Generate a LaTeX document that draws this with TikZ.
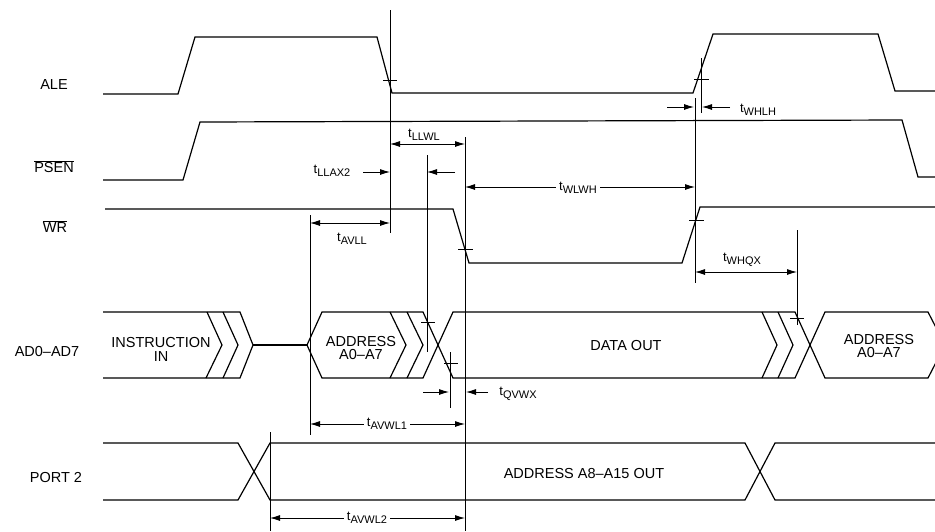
\documentclass[tikz,border=0pt]{standalone}
\usepackage{fontspec}
\setmainfont{Liberation Sans}
\usetikzlibrary{arrows.meta}
\newcommand{\tsub}[1]{{\fontsize{13}{13}\selectfont t}{\fontsize{11}{11}\selectfont\raisebox{-3.5pt}{#1}}}
\begin{document}
\begin{tikzpicture}[x=1pt,y=-1pt,
  wave/.style={line width=1.2pt, line join=miter},
  refl/.style={line width=1pt},
  tick/.style={line width=1pt},
  dim/.style={line width=0.9pt},
  arr/.style={-{Latex[length=10pt,width=6pt]}},
  barr/.style={{Latex[length=10pt,width=6pt]}-{Latex[length=10pt,width=6pt]}},
  lbl/.style={font=\fontsize{14.5}{14.5}\selectfont, inner sep=0pt, align=center},
  tl/.style={inner sep=2pt},
  tlw/.style={inner sep=3pt, fill=white}]
\useasboundingbox (0,0) rectangle (935,531);
\fill[white] (0,0) rectangle (935,531);

% ---------- signal names ----------
\node[lbl] (ale)  at (54,85)  {ALE};
\node[lbl] (psen) at (54,167) {$\overline{\mbox{PSEN}}$};
\node[lbl] (wr)   at (55,227) {$\overline{\mbox{WR}}$};
\node[lbl] (ad)   at (47,352) {AD0--AD7};
\node[lbl] (p2)   at (56,477) {PORT 2};

% ---------- waveforms ----------
% ALE
\draw[wave] (103,94) -- (178,94) -- (195,37) -- (377,37) -- (392,93) -- (693,93) -- (713,34) -- (878,34) -- (895,91) -- (935,91);
% PSEN
\draw[wave] (103,180) -- (183,180) -- (200,122) -- (902,120) -- (918,177) -- (935,177);
% WR
\draw[wave] (105,209) -- (453,209) -- (469,263) -- (682,263) -- (700,207) -- (935,207);

% AD0-AD7 bus
\draw[wave] (103,312) -- (240,312) -- (253,345) -- (240,378) -- (103,378);
\draw[wave] (207,312) -- (222,345) -- (206,378);
\draw[wave] (223,312) -- (238,345) -- (223,378);
\draw[wave] (253,345) -- (307,345);
\draw[wave] (307,345) -- (322,312) -- (423,312) -- (453,378) -- (795,378) -- (825,312) -- (928,312) -- (945,345)
            -- (928,378) -- (825,378) -- (795,312) -- (453,312) -- (423,378) -- (322,378) -- cycle;
\draw[wave] (390,312) -- (406,345) -- (390,378);
\draw[wave] (407,312) -- (423,345) -- (407,378);
\draw[wave] (762,312) -- (777,345) -- (762,378);
\draw[wave] (778,312) -- (793,345) -- (778,378);

% PORT 2 bus
\draw[wave] (103,443) -- (238,443) -- (270,500) -- (745,500) -- (775,443) -- (935,443);
\draw[wave] (103,500) -- (238,500) -- (270,443) -- (745,443) -- (775,500) -- (935,500);

% bus texts
\node[lbl] (ins)  at (161,349) {INSTRUCTION\\[-0.5pt]IN};
\node[lbl] (adr1) at (361,348) {ADDRESS\\[-1pt]A0--A7};
\node[lbl] (dout) at (626,346) {DATA OUT};
\node[lbl] (adr2) at (879,346) {ADDRESS\\[-1pt]A0--A7};
\node[lbl] (p2t)  at (584,473) {ADDRESS A8--A15 OUT};

% ---------- reference lines ----------
\coordinate (v1t) at (390,10);   \coordinate (v1b) at (390,233);
\coordinate (v2t) at (310,215);  \coordinate (v2b) at (310,435);
\coordinate (v3t) at (427,155);  \coordinate (v3b) at (427,352);
\coordinate (v4t) at (465,137);  \coordinate (v4b) at (465,531);
\coordinate (v5t) at (450,352);  \coordinate (v5b) at (450,408);
\coordinate (v6t) at (695,98);   \coordinate (v6b) at (695,283);
\coordinate (v7t) at (701,58);   \coordinate (v7b) at (701,113);
\coordinate (v8t) at (797,230);  \coordinate (v8b) at (797,325);
\coordinate (v9t) at (270,432);  \coordinate (v9b) at (270,531);
\foreach \a in {1,...,9} {\draw[refl] (v\a t) -- (v\a b);}

% ticks
\draw[tick] (383,80) -- (397,80);
\draw[tick] (694,79) -- (709,79);
\draw[tick] (458,249) -- (473,249);
\draw[tick] (689,220) -- (704,220);
\draw[tick] (421,322) -- (435,322);
\draw[tick] (444,363) -- (458,363);
\draw[tick] (790,318) -- (804,318);

% ---------- dimensions ----------
% tLLWL
\coordinate (a1) at (390,144); \coordinate (b1) at (465,144);
\draw[dim,barr] (a1) -- (b1);
\node[tl,anchor=south] (tllwl) at (424,143) {\tsub{LLWL}};
% tLLAX2
\node[tl] (tllax) at (332,171) {\tsub{LLAX2}};
\coordinate (a2) at (363,172); \coordinate (b2) at (390,172);
\draw[dim,arr] (a2) -- (b2);
\coordinate (a3) at (455,172); \coordinate (b3) at (427,172);
\draw[dim,arr] (a3) -- (b3);
% tAVLL
\coordinate (a4) at (310,223); \coordinate (b4) at (390,223);
\draw[dim,barr] (a4) -- (b4);
\node[tl] (tavll) at (352,239) {\tsub{AVLL}};
% tWLWH
\coordinate (a5) at (465,187); \coordinate (b5) at (695,187);
\draw[dim,barr] (a5) -- (b5);
\node[tlw] (twlwh) at (578,188) {\tsub{WLWH}};
% tWHLH
\coordinate (a6) at (667,107); \coordinate (b6) at (694,107);
\draw[dim,arr] (a6) -- (b6);
\coordinate (a7) at (730,107); \coordinate (b7) at (702,107);
\draw[dim,arr] (a7) -- (b7);
\node[tl] (twhlh) at (758,110) {\tsub{WHLH}};
% tWHQX
\coordinate (a8) at (695,272); \coordinate (b8) at (797,272);
\draw[dim,barr] (a8) -- (b8);
\node[tl] (twhqx) at (742,260) {\tsub{WHQX}};
% tQVWX
\coordinate (a9) at (423,392); \coordinate (b9) at (449,392);
\draw[dim,arr] (a9) -- (b9);
\coordinate (a10) at (488,392); \coordinate (b10) at (466,392);
\draw[dim,arr] (a10) -- (b10);
\node[tl] (tqvwx) at (518,394) {\tsub{QVWX}};
% tAVWL1
\coordinate (a11) at (310,424); \coordinate (b11) at (465,424);
\draw[dim,barr] (a11) -- (b11);
\node[tlw] (tavwl1) at (387,424) {\tsub{AVWL1}};
% tAVWL2
\coordinate (a12) at (270,518); \coordinate (b12) at (465,518);
\draw[dim,barr] (a12) -- (b12);
\node[tlw] (tavwl2) at (367,518) {\tsub{AVWL2}};
\end{tikzpicture}
\end{document}
